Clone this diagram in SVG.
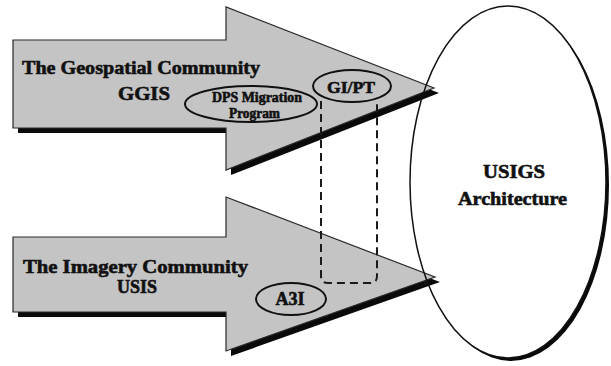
<svg xmlns="http://www.w3.org/2000/svg" width="611" height="366" viewBox="0 0 611 366">
  <style>
    .arrow { fill: #c4c4c4; stroke: #2a2a2a; stroke-width: 1.2; stroke-linejoin: miter; }
    .shadow { fill: #0a0a0a; }
    .tag { fill: #c4c4c4; stroke: #111; stroke-width: 2; }
    .lbl { font-family: "Liberation Serif", "Times New Roman", serif; font-weight: bold; fill: #111; stroke: #111; stroke-width: 0.6; }
    .dash { fill: none; stroke: #1a1a1a; stroke-width: 2; stroke-dasharray: 8 5; }
  </style>
  <defs>
    <polygon id="geoShape" points="13,40 226,40 226,7 434,88 226,170 226,128 13,128"/>
    <polygon id="imgShape" points="13,237 226,237 226,197 435,277 226,351 226,312 13,312"/>
  </defs>

  <rect width="611" height="366" fill="#ffffff"/>

  <!-- USIGS architecture body (fill and drop shadow) -->
  <g id="usigs">
    <ellipse cx="511" cy="185" rx="98" ry="176" class="shadow"/>
    <ellipse cx="508" cy="182" rx="98" ry="176" fill="#ffffff"/>
  </g>

  <!-- Geospatial community arrow -->
  <g id="geospatial">
    <use href="#geoShape" class="shadow" transform="translate(5,5)"/>
    <use href="#geoShape" class="arrow"/>
    <text class="lbl" x="22" y="74" font-size="19" textLength="238" lengthAdjust="spacingAndGlyphs">The Geospatial Community</text>
    <text class="lbl" x="118" y="100" font-size="19" textLength="52" lengthAdjust="spacingAndGlyphs">GGIS</text>
  </g>

  <g id="dps">
    <ellipse cx="251" cy="104" rx="66" ry="18" class="tag"/>
    <text class="lbl" x="212" y="102" font-size="14" textLength="90" lengthAdjust="spacingAndGlyphs">DPS Migration</text>
    <text class="lbl" x="229" y="118" font-size="14" textLength="51" lengthAdjust="spacingAndGlyphs">Program</text>
  </g>

  <g id="gipt">
    <ellipse cx="352" cy="86" rx="39" ry="16" class="tag"/>
    <text class="lbl" x="327" y="93" font-size="17" textLength="48" lengthAdjust="spacingAndGlyphs">GI/PT</text>
  </g>

  <!-- Imagery community arrow -->
  <g id="imagery">
    <use href="#imgShape" class="shadow" transform="translate(5,5)"/>
    <use href="#imgShape" class="arrow"/>
    <text class="lbl" x="23" y="273" font-size="19" textLength="225" lengthAdjust="spacingAndGlyphs">The Imagery Community</text>
    <text class="lbl" x="117" y="293" font-size="18" textLength="40" lengthAdjust="spacingAndGlyphs">USIS</text>
  </g>

  <g id="a3i">
    <ellipse cx="291" cy="299" rx="35" ry="16" class="tag"/>
    <text class="lbl" x="290" y="305" font-size="18" text-anchor="middle">A3I</text>
  </g>

  <!-- connectors -->
  <g id="connectors">
    <path class="dash" d="M321,101 V276 Q321,283 328,283 H370 Q377,283 377,276 V101"/>
  </g>

  <!-- USIGS outline and label drawn over the arrow tips -->
  <g id="usigs-outline">
    <ellipse cx="508" cy="182" rx="98" ry="176" fill="none" stroke="#111" stroke-width="1.5"/>
    <text class="lbl" x="483" y="178" font-size="19" textLength="62" lengthAdjust="spacingAndGlyphs">USIGS</text>
    <text class="lbl" x="458" y="205" font-size="19" textLength="109" lengthAdjust="spacingAndGlyphs">Architecture</text>
  </g>
</svg>
